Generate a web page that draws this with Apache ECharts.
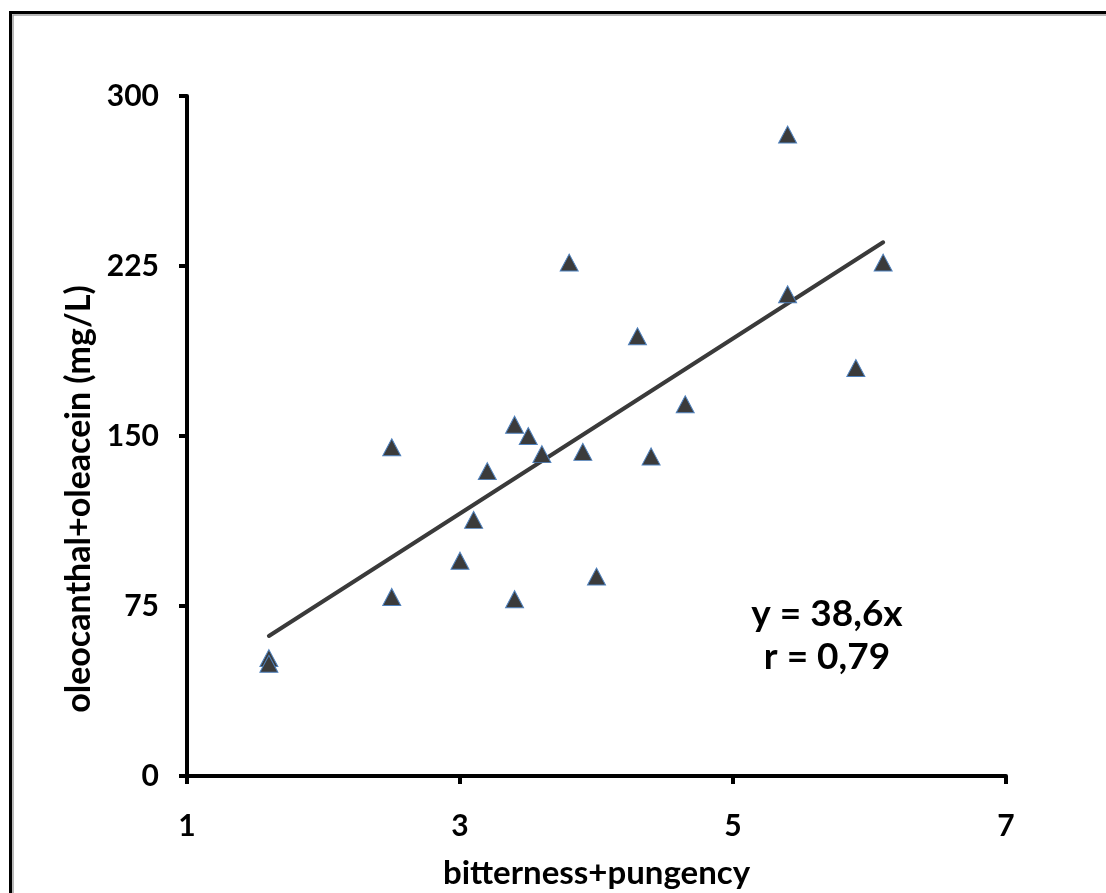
<!DOCTYPE html>
<html>
<head>
<meta charset="utf-8">
<script src="https://cdn.jsdelivr.net/npm/echarts@6/dist/echarts.min.js"></script>
<style>
html,body{margin:0;padding:0;background:#fff;}
#chart{width:1106px;height:893px;}
</style>
</head>
<body>
<div id="chart"></div>
<script>
// Data
var xValues = [1.6, 1.6, 2.5, 2.5, 3.0, 3.1, 3.2, 3.4, 3.4, 3.5, 3.6, 3.8, 3.9, 4.0, 4.3, 4.4, 4.65, 5.4, 5.4, 5.9, 6.1];
var yValues = [52, 49.5, 145, 79, 95, 113, 134.5, 155, 78, 150, 142, 226.5, 143, 88, 194, 141, 164, 283, 212.5, 180, 226.5];
var trendSlope = 38.6;
var trendXRange = [1.6, 6.1];
var xTicks = [1, 3, 5, 7];
var yTicks = [0, 75, 150, 225, 300];
var xTitle = 'bitterness+pungency';
var yTitle = 'oleocanthal+oleacein (mg/L)';
var eqLines = ['y = 38,6x', 'r = 0,79'];

var points = xValues.map(function (x, i) { return [x, yValues[i]]; });
var trend = trendXRange.map(function (x) { return [x, trendSlope * x]; });

var FONT = 'Lato';
var chart = echarts.init(document.getElementById('chart'), null, {renderer: 'canvas'});
chart.setOption({
  backgroundColor: '#ffffff',
  animation: false,
  grid: {left: 187, right: 100, top: 96, bottom: 117, containLabel: false, outerBoundsMode: 'none'},
  xAxis: {
    type: 'value', min: xTicks[0], max: xTicks[xTicks.length - 1], interval: 2,
    name: xTitle, nameLocation: 'middle', nameGap: 81,
    nameTextStyle: {fontFamily: FONT, fontWeight: 'bold', fontSize: 33, color: '#000'},
    axisLine: {onZero: false, lineStyle: {color: '#000', width: 4}},
    axisTick: {show: true, inside: false, length: 8, lineStyle: {color: '#000', width: 4}},
    axisLabel: {margin: 35, fontFamily: FONT, fontWeight: 'bold', fontSize: 30, color: '#000'},
    splitLine: {show: false}
  },
  yAxis: {
    type: 'value', min: yTicks[0], max: yTicks[yTicks.length - 1], interval: 75,
    axisLine: {show: true, onZero: false, lineStyle: {color: '#000', width: 4}},
    axisTick: {show: true, inside: false, length: 8, lineStyle: {color: '#000', width: 4}},
    axisLabel: {margin: 28, fontFamily: FONT, fontWeight: 'bold', fontSize: 30, color: '#000'},
    splitLine: {show: false}
  },
  series: [
    {
      type: 'line', data: trend, symbol: 'none', z: 2,
      lineStyle: {color: '#3a3a3a', width: 4, cap: 'round'}
    },
    {
      type: 'scatter', data: points, symbol: 'triangle', symbolSize: [18, 17], z: 3,
      itemStyle: {color: '#3b3b3b', borderColor: '#4f81bd', borderWidth: 1, opacity: 1}
    }
  ],
  graphic: [
    {type: 'rect', shape: {x: 10.5, y: 12.5, width: 1200, height: 1000}, style: {fill: 'none', stroke: '#000', lineWidth: 3}, silent: true},
    {type: 'rect', shape: {x: 13, y: 15, width: 1200, height: 1000}, style: {fill: 'none', stroke: '#a0a0a0', lineWidth: 1.5}, silent: true},
    {type: 'text', x: 79, y: 499, rotation: Math.PI / 2, style: {text: yTitle, font: 'bold 34px ' + FONT, fill: '#000', align: 'center', verticalAlign: 'middle'}},
    {type: 'text', x: 827, y: 636, style: {text: eqLines.join('\n'), font: 'bold 37px ' + FONT, fill: '#000', align: 'center', verticalAlign: 'middle', lineHeight: 43}}
  ]
});
</script>
</body>
</html>
